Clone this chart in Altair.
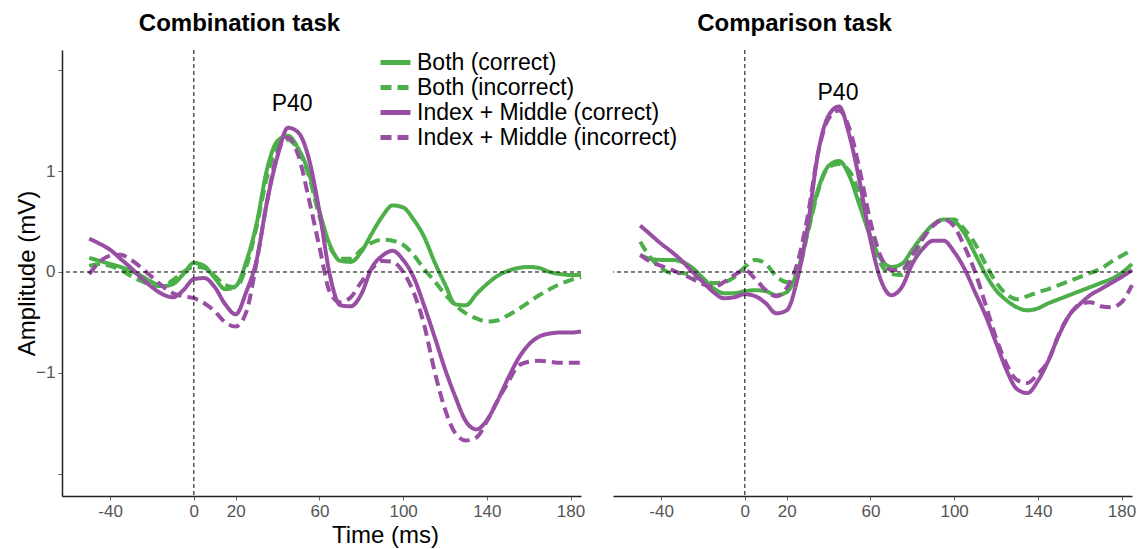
import altair as alt
import pandas as pd

FONT = "Liberation Sans"

time_ms = list(range(-50, 190, 5))  # -50 ... 185
series_names = ["Both (correct)", "Both (incorrect)",
                "Index + Middle (correct)", "Index + Middle (incorrect)"]
series_colors = ["#4daf4a", "#4daf4a", "#984ea3", "#984ea3"]
series_dash = [[1, 0], [11, 6], [1, 0], [11, 6]]

# Combination task
comb_both_correct = [0.14, 0.11, 0.08, 0.05, 0.01, -0.04, -0.10, -0.14, -0.12, -0.02,
                     0.09, 0.06, -0.06, -0.17, -0.14, 0.10, 0.48, 1.02, 1.30, 1.35,
                     1.22, 0.98, 0.60, 0.27, 0.11, 0.10, 0.20, 0.38, 0.55, 0.66,
                     0.64, 0.52, 0.35, 0.10, -0.12, -0.32, -0.33, -0.22, -0.12, -0.04,
                     0.01, 0.04, 0.05, 0.04, 0.00, -0.02, -0.03, -0.03]
comb_both_incorrect = [0.06, 0.08, 0.06, 0.02, -0.04, -0.09, -0.13, -0.14, -0.08, 0.00,
                       0.05, 0.04, -0.04, -0.13, -0.15, 0.05, 0.45, 0.95, 1.25, 1.31,
                       1.20, 0.95, 0.55, 0.25, 0.13, 0.13, 0.22, 0.29, 0.32, 0.31,
                       0.27, 0.17, 0.03, -0.09, -0.22, -0.33, -0.41, -0.46, -0.49, -0.48,
                       -0.43, -0.37, -0.30, -0.23, -0.17, -0.12, -0.08, -0.05]
comb_im_correct = [0.33, 0.28, 0.22, 0.13, 0.04, -0.06, -0.15, -0.22, -0.25, -0.18,
                   -0.07, -0.06, -0.15, -0.32, -0.42, -0.20, 0.12, 0.70, 1.15, 1.43,
                   1.38, 1.12, 0.60, -0.03, -0.33, -0.34, -0.22, 0.04, 0.16, 0.21,
                   0.12, -0.05, -0.33, -0.64, -0.96, -1.24, -1.48, -1.56, -1.47, -1.28,
                   -1.06, -0.86, -0.72, -0.64, -0.61, -0.60, -0.60, -0.59]
comb_im_incorrect = [-0.02, 0.10, 0.16, 0.17, 0.12, 0.04, -0.05, -0.14, -0.21, -0.24,
                     -0.26, -0.31, -0.39, -0.50, -0.54, -0.40, 0.10, 0.70, 1.18, 1.33,
                     1.15, 0.72, 0.25, -0.20, -0.30, -0.25, -0.10, 0.03, 0.11, 0.10,
                     0.00, -0.20, -0.52, -0.98, -1.36, -1.60, -1.67, -1.64, -1.48, -1.28,
                     -1.10, -0.93, -0.89, -0.88, -0.89, -0.90, -0.90, -0.90]

# Comparison task
comp_both_correct = [0.17, 0.13, 0.12, 0.12, 0.10, 0.04, -0.06, -0.16, -0.21, -0.21,
                     -0.19, -0.18, -0.19, -0.23, -0.20, 0.00, 0.40, 0.82, 1.05, 1.10,
                     0.95, 0.65, 0.35, 0.13, 0.05, 0.08, 0.22, 0.36, 0.47, 0.52,
                     0.50, 0.38, 0.18, -0.02, -0.18, -0.28, -0.35, -0.38, -0.36, -0.31,
                     -0.27, -0.23, -0.19, -0.15, -0.11, -0.07, -0.01, 0.08]
comp_both_incorrect = [0.30, 0.14, 0.04, -0.01, -0.01, -0.04, -0.08, -0.11, -0.10, -0.05,
                       0.05, 0.12, 0.08, -0.04, -0.10, -0.02, 0.38, 0.80, 1.04, 1.07,
                       1.00, 0.75, 0.35, 0.08, -0.02, -0.03, 0.12, 0.33, 0.46, 0.52,
                       0.52, 0.42, 0.28, 0.08, -0.10, -0.22, -0.27, -0.24, -0.20, -0.17,
                       -0.13, -0.09, -0.05, -0.01, 0.03, 0.10, 0.16, 0.22]
comp_im_correct = [0.46, 0.37, 0.28, 0.20, 0.11, 0.00, -0.10, -0.20, -0.26, -0.25,
                   -0.22, -0.24, -0.31, -0.41, -0.38, -0.08, 0.45, 1.18, 1.55, 1.64,
                   1.35, 0.88, 0.32, -0.08, -0.23, -0.15, 0.08, 0.23, 0.31, 0.31,
                   0.20, 0.03, -0.20, -0.43, -0.70, -0.97, -1.16, -1.20, -1.08, -0.88,
                   -0.63, -0.43, -0.32, -0.23, -0.17, -0.11, -0.05, 0.02]
comp_im_incorrect = [0.17, 0.10, 0.06, 0.02, -0.02, -0.07, -0.12, -0.15, -0.10, -0.03,
                     0.02, -0.07, -0.18, -0.24, -0.16, 0.08, 0.55, 1.18, 1.52, 1.60,
                     1.42, 1.00, 0.50, 0.15, 0.02, 0.02, 0.17, 0.33, 0.46, 0.52,
                     0.45, 0.25, 0.00, -0.32, -0.65, -0.91, -1.07, -1.10, -1.01, -0.88,
                     -0.62, -0.43, -0.32, -0.30, -0.34, -0.35, -0.30, -0.13]

x_ticks = [-40, 0, 20, 60, 100, 140, 180]
y_ticks = [-2, -1, 0, 1, 2]
peak_label = "P40"
comb_peak_pos = (47, 1.66)
comp_peak_pos = (44.5, 1.77)


def long_df(lists):
    rows = []
    for name, vals in zip(series_names, lists):
        for t, v in zip(time_ms, vals):
            rows.append({"series": name, "time": t, "amp": v})
    return pd.DataFrame(rows)


comb_df = long_df([comb_both_correct, comb_both_incorrect, comb_im_correct, comb_im_incorrect])
comp_df = long_df([comp_both_correct, comp_both_incorrect, comp_im_correct, comp_im_incorrect])

x_scale = alt.Scale(domain=[-63, 185], nice=False, zero=False)
y_scale = alt.Scale(domain=[-2.22, 2.2], nice=False, zero=False)

legend = alt.Legend(title=None, orient="none", legendX=316, legendY=0,
                    symbolType="stroke", symbolSize=900, symbolStrokeWidth=5,
                    labelFontSize=23, labelColor="black", labelFont=FONT, labelLimit=400,
                    clipHeight=25, rowPadding=0, labelOffset=4, padding=0)

color_enc = alt.Color("series:N", scale=alt.Scale(domain=series_names, range=series_colors),
                      legend=legend)
dash_enc = alt.StrokeDash("series:N", scale=alt.Scale(domain=series_names, range=series_dash),
                          legend=legend)

y_label_expr = "datum.value === 0 ? '0' : datum.value === 1 ? '1' : datum.value === -1 ? '\u22121' : ''"
x_label_expr = "'' + datum.value"


def panel(df, peak_pos, title, dx, left):
    if left:
        x_axis = alt.Axis(values=x_ticks, labelExpr=x_label_expr, title="Time (ms)", titleFontSize=24,
                          titleFontWeight="normal", titleColor="black", titleFont=FONT,
                          titleX=323, titleY=39, titleBaseline="middle", titleAlign="center")
        y_axis = alt.Axis(values=y_ticks, labelExpr=y_label_expr, title="Amplitude (mV)",
                          titleFontSize=24, titleFontWeight="normal", titleColor="black",
                          titleFont=FONT, titlePadding=-4)
    else:
        x_axis = alt.Axis(values=x_ticks, labelExpr=x_label_expr, title=None)
        y_axis = None
    x_enc = alt.X("time:Q", scale=x_scale, axis=x_axis)
    y_enc = alt.Y("amp:Q", scale=y_scale, axis=y_axis)

    hline = alt.Chart(pd.DataFrame({"amp": [0]})).mark_rule(
        color="black", strokeDash=[4, 3], strokeWidth=1).encode(y=alt.Y("amp:Q", scale=y_scale))
    vline = alt.Chart(pd.DataFrame({"time": [0]})).mark_rule(
        color="black", strokeDash=[4, 3], strokeWidth=1).encode(x=alt.X("time:Q", scale=x_scale))
    lines = alt.Chart(df).mark_line(strokeWidth=4, interpolate="monotone").encode(
        x=x_enc, y=y_enc, color=color_enc, strokeDash=dash_enc, detail="series:N")
    txt = alt.Chart(pd.DataFrame({"time": [peak_pos[0]], "amp": [peak_pos[1]], "label": [peak_label]})
                    ).mark_text(fontSize=23, font=FONT, color="black").encode(
        x=alt.X("time:Q", scale=x_scale), y=alt.Y("amp:Q", scale=y_scale), text="label:N")
    return alt.layer(lines, hline, vline, txt).properties(
        width=519, height=446,
        title=alt.Title(title, fontSize=24, fontWeight="bold", font=FONT, color="black",
                        anchor="middle", dx=dx, offset=14))


left = panel(comb_df, comb_peak_pos, "Combination task", -82, True)
right = panel(comp_df, comp_peak_pos, "Comparison task", -78, False)

chart = alt.hconcat(left, right, spacing=32, bounds="flush").configure(
    padding={"left": 15, "top": 11, "right": 5, "bottom": 5}
).configure_view(stroke=None).configure_axis(
    grid=False, domainColor="#222", domainWidth=1.5, tickColor="#666", tickSize=4,
    labelColor="#555", labelFontSize=17, labelFont=FONT, labelPadding=3
)

chart.save("out.html", embed_options={"renderer": "svg", "actions": False})
